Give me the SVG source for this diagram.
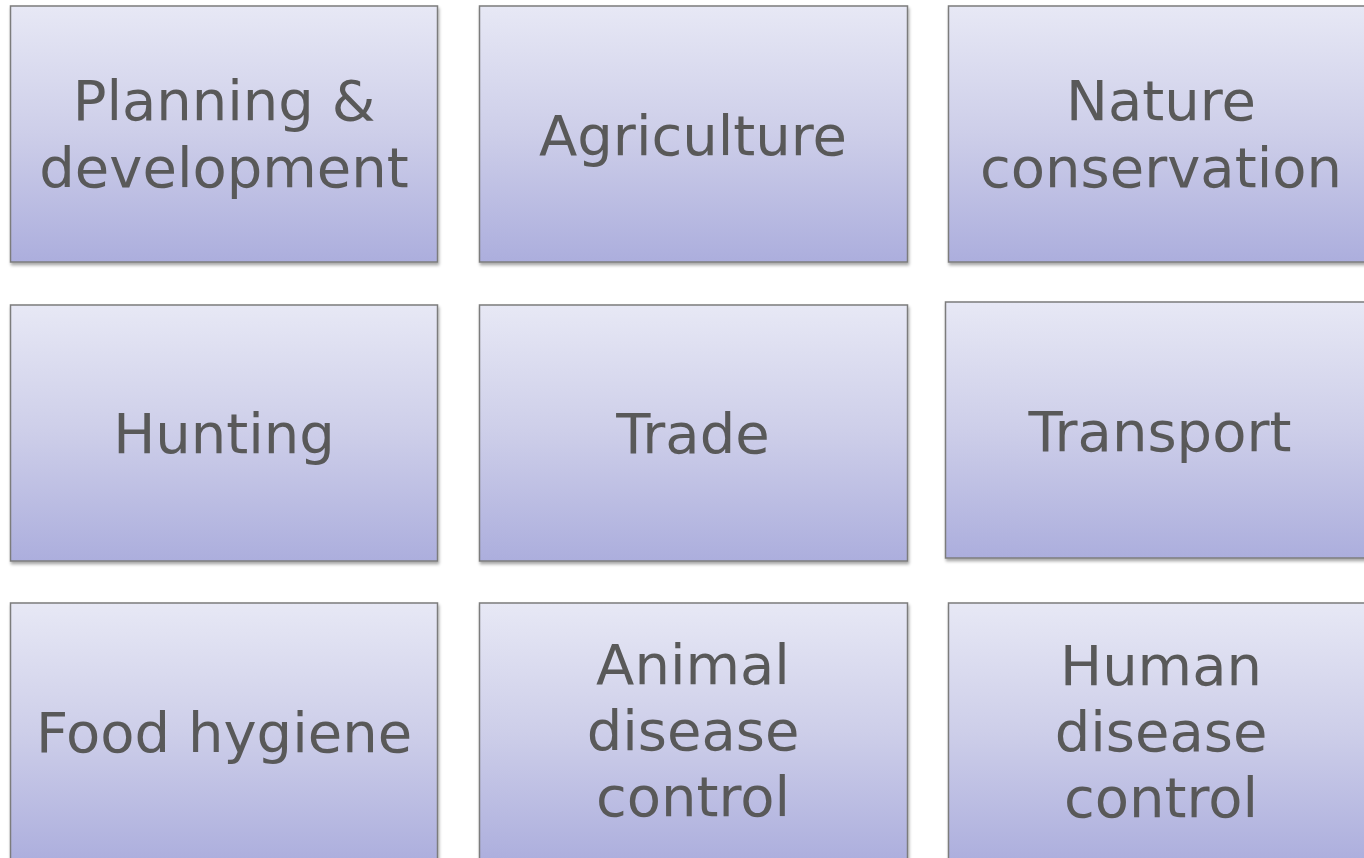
<svg xmlns="http://www.w3.org/2000/svg" width="1364" height="858" viewBox="0 0 1364 858">
<style>
.box{fill:url(#g);stroke:#7c7c7c;stroke-width:1.5;filter:url(#sh)}
.t{font-family:"DejaVu Sans",sans-serif;font-size:56px;fill:#595959;text-anchor:middle}
</style>
<defs>
<linearGradient id="g" x1="0" y1="0" x2="0" y2="1">
<stop offset="0" stop-color="#e7e8f5"/>
<stop offset="0.5" stop-color="#cdcee9"/>
<stop offset="1" stop-color="#acaedd"/>
</linearGradient>
<filter id="sh" x="-5%" y="-5%" width="110%" height="115%">
<feDropShadow dx="1" dy="2.5" stdDeviation="1.5" flood-color="#000" flood-opacity="0.35"/>
</filter>
</defs>
<rect width="1364" height="858" fill="#fff"/>
<g id="connectors"/>
<g id="n1"><rect class="box" x="10.5" y="6" width="427" height="256"/><text class="t" x="224" y="120">Planning &amp;</text><text class="t" x="224" y="187">development</text></g>
<g id="n2"><rect class="box" x="479.5" y="6" width="428" height="256"/><text class="t" x="693" y="155">Agriculture</text></g>
<g id="n3"><rect class="box" x="948.5" y="6" width="428" height="256"/><text class="t" x="1161" y="120">Nature</text><text class="t" x="1161" y="187">conservation</text></g>
<g id="n4"><rect class="box" x="10.5" y="305" width="427" height="256"/><text class="t" x="224" y="453">Hunting</text></g>
<g id="n5"><rect class="box" x="479.5" y="305" width="428" height="256"/><text class="t" x="693" y="453">Trade</text></g>
<g id="n6"><rect class="box" x="945.5" y="302" width="428" height="256"/><text class="t" x="1160" y="451">Transport</text></g>
<g id="n7"><rect class="box" x="10.5" y="603" width="427" height="260"/><text class="t" x="224" y="752">Food hygiene</text></g>
<g id="n8"><rect class="box" x="479.5" y="603" width="428" height="260"/><text class="t" x="693" y="684">Animal</text><text class="t" x="693" y="750">disease</text><text class="t" x="693" y="816">control</text></g>
<g id="n9"><rect class="box" x="948.5" y="603" width="428" height="260"/><text class="t" x="1161" y="685">Human</text><text class="t" x="1161" y="751">disease</text><text class="t" x="1161" y="817">control</text></g>
</svg>
